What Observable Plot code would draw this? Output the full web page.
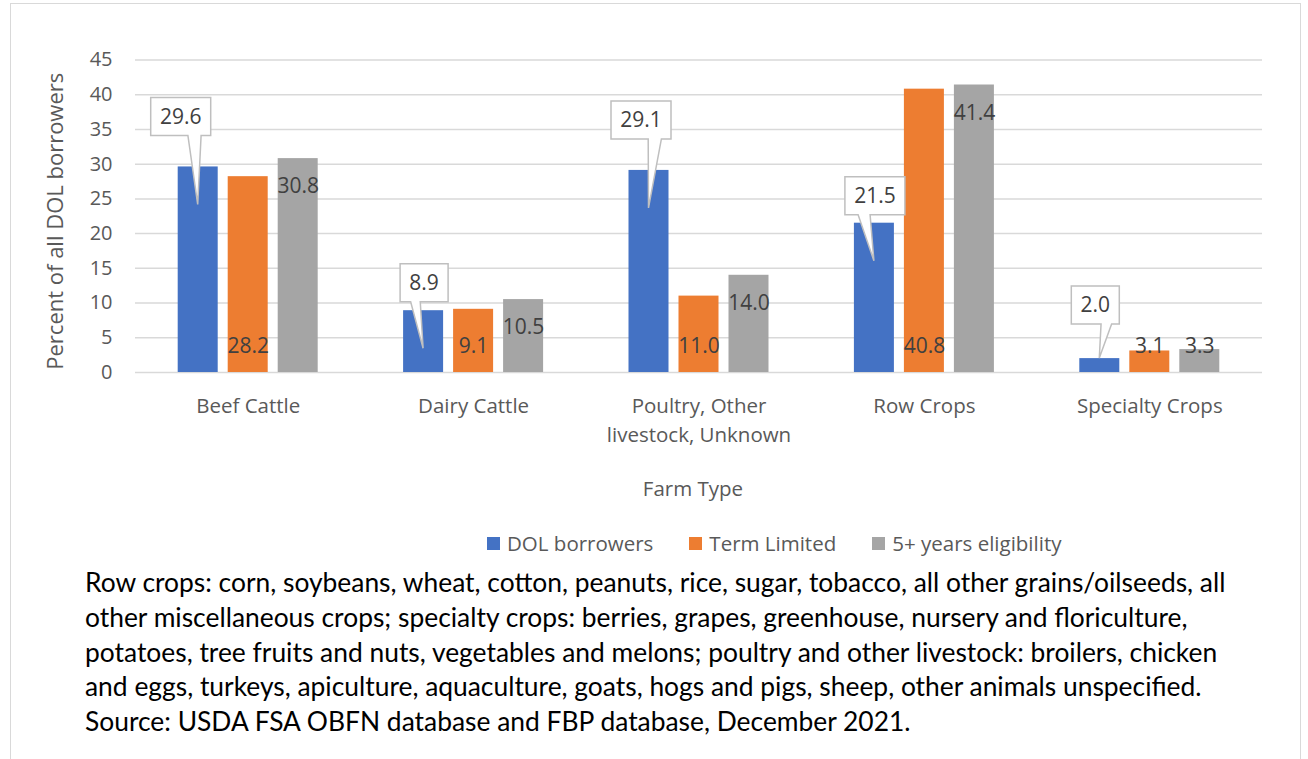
<!DOCTYPE html>
<html>
<head>
<meta charset="utf-8">
<script src="https://cdn.jsdelivr.net/npm/d3@7"></script>
<script src="https://cdn.jsdelivr.net/npm/@observablehq/plot@0.6"></script>
<style>
  html, body { margin: 0; padding: 0; background: #fff; }
  #frame { position: absolute; left: 10px; top: 3px; width: 1291px; height: 800px;
           border: 1.5px solid #d9d9d9; border-bottom: none; box-sizing: border-box; }
  #chart { position: absolute; left: 0; top: 0; }
  #legend { position: absolute; left: 487px; top: 531px; height: 24px; display: flex; align-items: center;
            font-family: "Open Sans", sans-serif; font-size: 20.5px; color: #595959; white-space: nowrap; }
  .item { display: flex; align-items: center; margin-right: 36px; }
  .sw { width: 13px; height: 13px; margin-right: 7px; }
  #caption { position: absolute; left: 85px; top: 565px; font-family: Lato, sans-serif; font-size: 26.4px;
             line-height: 34.8px; color: #000; white-space: nowrap; }
</style>
</head>
<body>
<div id="frame"></div>
<div id="chart"></div>
<div id="legend"></div>
<div id="caption"></div>
<script>
// ---- data ----
const categories = ["Beef Cattle", "Dairy Cattle", "Poultry, Other\nlivestock, Unknown", "Row Crops", "Specialty Crops"];
const seriesNames = ["DOL borrowers", "Term Limited", "5+ years eligibility"];
const dolBorrowers = [29.6, 8.9, 29.1, 21.5, 2.0];
const termLimited = [28.2, 9.1, 11.0, 40.8, 3.1];
const fiveYearsEligibility = [30.8, 10.5, 14.0, 41.4, 3.3];
const yTicks = [0, 5, 10, 15, 20, 25, 30, 35, 40, 45];
const yTitle = "Percent of all DOL borrowers";
const xTitle = "Farm Type";
const captionLines = [
  "Row crops: corn, soybeans, wheat, cotton, peanuts, rice, sugar, tobacco, all other grains/oilseeds, all",
  "other miscellaneous crops; specialty crops: berries, grapes, greenhouse, nursery and floriculture,",
  "potatoes, tree fruits and nuts, vegetables and melons; poultry and other livestock: broilers, chicken",
  "and eggs, turkeys, apiculture, aquaculture, goats, hogs and pigs, sheep, other animals unspecified.",
  "Source: USDA FSA OBFN database and FBP database, December 2021."
];

// ---- styling / layout ----
const colors = ["#4472C4", "#ED7D31", "#A5A5A5"];
const BAR_STEP = 50 / 225.4;   // spacing of bars inside a group, in category units
const BAR_W = 40 / 225.4;      // bar width, in category units
// callout label nudges for the DOL series (px): [box dx from bar centre, gap of box bottom above bar top]
const calloutOffsetPx = [[-17, 31], [1, 8.5], [-7.5, 31], [1, 8], [-4, 34]];

const seriesValues = [dolBorrowers, termLimited, fiveYearsEligibility];
const rows = [];
seriesValues.forEach((vals, si) => vals.forEach((v, ci) => {
  const xc = ci + (si - 1) * BAR_STEP;
  rows.push({ci, si, series: seriesNames[si], value: v, xc, x1: xc - BAR_W / 2, x2: xc + BAR_W / 2});
}));
const blueRows = rows.filter(d => d.si === 0);
const orangeRows = rows.filter(d => d.si === 1);
const grayRows = rows.filter(d => d.si === 2);

function callouts(index, scales) {
  const g = d3.create("svg:g");
  blueRows.forEach((d, k) => {
    const bx = scales.x(d.xc);
    const top = scales.y(d.value), base = scales.y(0);
    const tipY = base - top > 40 ? top + 38 : top;
    const [ox, gap] = calloutOffsetPx[k];
    const label = d.value.toFixed(1);
    const w = 12 * label.length + 12, h = 38;
    const cx = bx + ox, bottom = top - gap, left = cx - w / 2, boxTop = bottom - h;
    const [f1, f2] = bx > cx ? [0.62, 0.84] : [0.22, 0.42];
    const path = `M${left},${boxTop}H${left + w}V${bottom}H${left + f2 * w}L${bx},${tipY}L${left + f1 * w},${bottom}H${left}Z`;
    g.append("path").attr("d", path).attr("fill", "#fff").attr("stroke", "#bfbfbf").attr("stroke-width", 1.5);
    g.append("text").attr("x", cx).attr("y", (boxTop + bottom) / 2).attr("dy", "0.35em")
      .attr("text-anchor", "middle").attr("fill", "#404040").attr("font-size", 21).text(label);
  });
  return g.node();
}

const chart = Plot.plot({
  width: 1308,
  height: 520,
  marginLeft: 135,
  marginRight: 46,
  marginTop: 59.5,
  marginBottom: 148,
  style: {fontFamily: "'Open Sans', sans-serif", fontSize: "20px", color: "#595959", background: "transparent", overflow: "visible"},
  x: {domain: [-0.5, 4.5], axis: null},
  y: {domain: [0, 45], axis: null},
  color: {domain: seriesNames, range: colors},
  marks: [
    Plot.ruleY(yTicks, {stroke: "#d9d9d9", strokeWidth: 1.5}),
    Plot.rect(rows, {x1: "x1", x2: "x2", y1: 0, y2: "value", fill: "series"}),
    Plot.text(yTicks, {x: -0.5, y: d => d, text: d => String(d), textAnchor: "end", dx: -23, fill: "#595959", fontSize: 20}),
    Plot.text(categories, {x: (d, i) => i, y: 0, text: d => d, lineAnchor: "top", dy: 20, lineHeight: 1.4, fill: "#595959", fontSize: 20.5}),
    Plot.text([yTitle], {frameAnchor: "left", textAnchor: "middle", rotate: -90, text: d => d, dx: -80, dy: 5, fill: "#595959", fontSize: 22}),
    Plot.text([xTitle], {frameAnchor: "bottom", text: d => d, dx: -6, dy: 123, fill: "#595959", fontSize: 20.5}),
    Plot.text(orangeRows, {x: "xc", y: 0, text: d => d.value.toFixed(1), dy: -26, fill: "#404040", fontSize: 21}),
    Plot.text(grayRows.filter(d => d.value > 8), {x: "xc", y: "value", text: d => d.value.toFixed(1), dy: 28, fill: "#404040", fontSize: 21}),
    Plot.text(grayRows.filter(d => d.value <= 8), {x: "xc", y: 0, text: d => d.value.toFixed(1), dy: -26, fill: "#404040", fontSize: 21}),
    callouts
  ]
});
document.getElementById("chart").appendChild(chart);

// legend
const legend = document.getElementById("legend");
seriesNames.forEach((name, i) => {
  const item = document.createElement("div");
  item.className = "item";
  const sw = document.createElement("div");
  sw.className = "sw";
  sw.style.background = colors[i];
  const t = document.createElement("span");
  t.textContent = name;
  item.appendChild(sw);
  item.appendChild(t);
  legend.appendChild(item);
});

// caption
const cap = document.getElementById("caption");
captionLines.forEach(line => {
  const div = document.createElement("div");
  div.textContent = line;
  cap.appendChild(div);
});
</script>
</body>
</html>
